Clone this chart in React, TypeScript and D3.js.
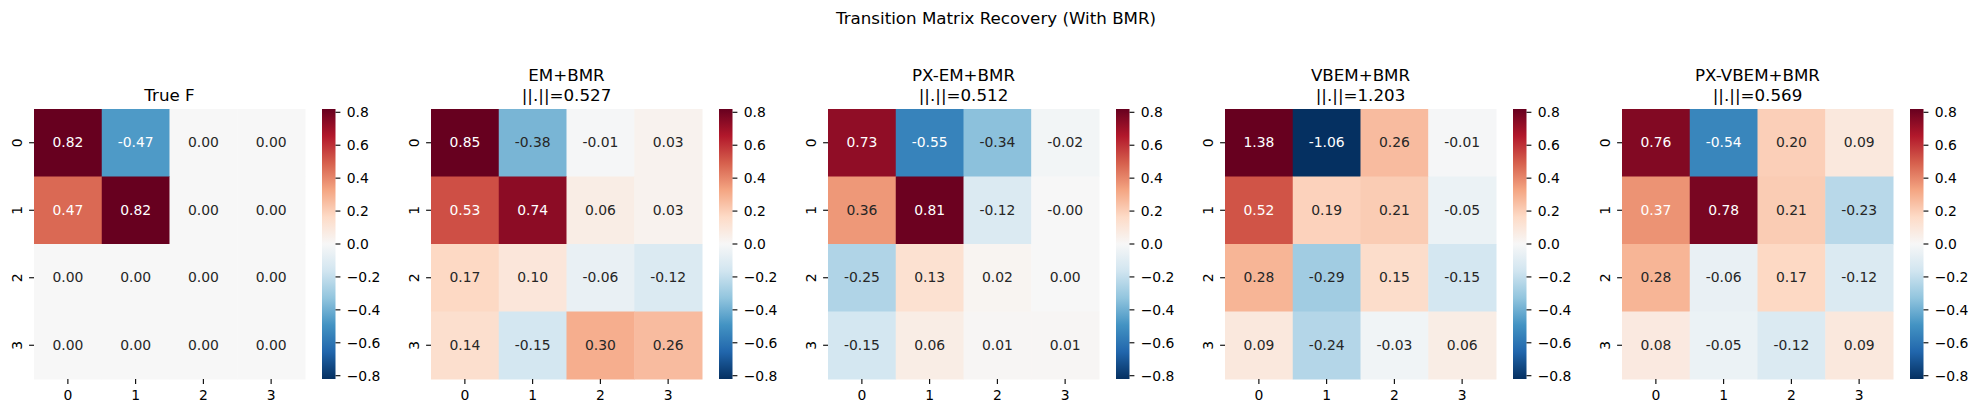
import React, { useRef, useEffect } from 'react'
import * as d3 from 'd3'

const rowLabels = ['0', '1', '2', '3']
const colLabels = ['0', '1', '2', '3']
const panelTitles = ['True F', 'EM+BMR', 'PX-EM+BMR', 'VBEM+BMR', 'PX-VBEM+BMR']
const errorNorms = [null, 0.527, 0.512, 1.203, 0.569]

const trueF = [
  [0.82, -0.47, 0.0, 0.0],
  [0.47, 0.82, 0.0, 0.0],
  [0.0, 0.0, 0.0, 0.0],
  [0.0, 0.0, 0.0, 0.0],
]
const emBmr = [
  [0.85, -0.38, -0.01, 0.03],
  [0.53, 0.74, 0.06, 0.03],
  [0.17, 0.10, -0.06, -0.12],
  [0.14, -0.15, 0.30, 0.26],
]
const pxEmBmr = [
  [0.73, -0.55, -0.34, -0.02],
  [0.36, 0.81, -0.12, -0.0],
  [-0.25, 0.13, 0.02, 0.0],
  [-0.15, 0.06, 0.01, 0.01],
]
const vbemBmr = [
  [1.38, -1.06, 0.26, -0.01],
  [0.52, 0.19, 0.21, -0.05],
  [0.28, -0.29, 0.15, -0.15],
  [0.09, -0.24, -0.03, 0.06],
]
const pxVbemBmr = [
  [0.76, -0.54, 0.20, 0.09],
  [0.37, 0.78, 0.21, -0.23],
  [0.28, -0.06, 0.17, -0.12],
  [0.08, -0.05, -0.12, 0.09],
]
const matrices = [trueF, emBmr, pxEmBmr, vbemBmr, pxVbemBmr]

const colorbarTicks = [-0.8, -0.6, -0.4, -0.2, 0.0, 0.2, 0.4, 0.6, 0.8]
const vmax = 0.82

// RdBu_r stops (ColorBrewer 11-class, low -> high)
const rdbuR = ['#053061', '#2166ac', '#4393c3', '#92c5de', '#d1e5f0', '#f7f7f7',
  '#fddbc7', '#f4a582', '#d6604d', '#b2182b', '#67001f']

const FONT = 'DejaVu Sans, Verdana, sans-serif'

// seaborn picks dark or white annotation text from relative luminance
function textColor(c: string) {
  const rgb = d3.rgb(c)
  const lin = [rgb.r, rgb.g, rgb.b].map(v => {
    const s = v / 255
    return s <= 0.03928 ? s / 12.92 : Math.pow((s + 0.055) / 1.055, 2.4)
  })
  const lum = 0.2126 * lin[0] + 0.7152 * lin[1] + 0.0722 * lin[2]
  return lum > 0.408 ? '#262626' : '#ffffff'
}

function fmtCell(v: number) {
  const neg = v < 0 || Object.is(v, -0)
  return (neg ? '-' : '') + Math.abs(v).toFixed(2)
}

function App() {
  const ref = useRef<SVGSVGElement | null>(null)

  useEffect(() => {
    const W = 1977
    const H = 413
    const firstLeft = 34
    const panelStep = 397
    const top = 109
    const hmW = 271
    const hmH = 270
    const cbOffset = 288
    const cbW = 13.5

    const svg = d3.select(ref.current)
    svg.selectAll('*').remove()
    svg.attr('width', W).attr('height', H)

    svg.append('rect').attr('width', W).attr('height', H).attr('fill', '#fff')

    const color = d3.scaleLinear<string>()
      .domain(d3.range(rdbuR.length).map(i => -vmax + (2 * vmax * i) / (rdbuR.length - 1)))
      .range(rdbuR)
      .interpolate(d3.interpolateRgb)
      .clamp(true)

    // shared gradient for the colorbars
    const grad = svg.append('defs').append('linearGradient')
      .attr('id', 'cbar-grad')
      .attr('x1', 0).attr('y1', 1).attr('x2', 0).attr('y2', 0)
    rdbuR.forEach((c, i) => {
      grad.append('stop')
        .attr('offset', i / (rdbuR.length - 1))
        .attr('stop-color', c)
    })

    svg.append('text')
      .attr('x', 996)
      .attr('y', 24)
      .attr('text-anchor', 'middle')
      .style('font-family', FONT)
      .style('font-size', '16.7px')
      .attr('fill', '#000')
      .text('Transition Matrix Recovery (With BMR)')

    const x = d3.scaleBand().domain(colLabels).range([0, hmW])
    const y = d3.scaleBand().domain(rowLabels).range([0, hmH])
    const cbScale = d3.scaleLinear().domain([-vmax, vmax]).range([hmH, 0])

    matrices.forEach((mat, p) => {
      const left = firstLeft + panelStep * p
      const g = svg.append('g').attr('transform', `translate(${left},${top})`)

      // cells
      mat.forEach((row, r) => {
        row.forEach((v, c) => {
          const fill = color(v)
          g.append('rect')
            .attr('x', x(colLabels[c]))
            .attr('y', y(rowLabels[r]))
            .attr('width', x.bandwidth() + 0.5)
            .attr('height', y.bandwidth() + 0.5)
            .attr('fill', fill)
          g.append('text')
            .attr('x', x(colLabels[c]) + x.bandwidth() / 2)
            .attr('y', y(rowLabels[r]) + y.bandwidth() / 2 + 4.4)
            .attr('text-anchor', 'middle')
            .style('font-family', FONT)
            .style('font-size', '13.9px')
            .attr('fill', textColor(fill))
            .text(fmtCell(v))
        })
      })

      // x ticks
      colLabels.forEach(lbl => {
        const cx = x(lbl) + x.bandwidth() / 2
        g.append('line')
          .attr('x1', cx).attr('x2', cx)
          .attr('y1', hmH).attr('y2', hmH + 4.9)
          .attr('stroke', '#000').attr('stroke-width', 1.1)
        g.append('text')
          .attr('x', cx).attr('y', hmH + 21.3)
          .attr('text-anchor', 'middle')
          .style('font-family', FONT)
          .style('font-size', '13.9px')
          .attr('fill', '#000')
          .text(lbl)
      })

      // y ticks (rotated labels)
      rowLabels.forEach(lbl => {
        const cy = y(lbl) + y.bandwidth() / 2
        g.append('line')
          .attr('x1', -4.9).attr('x2', 0)
          .attr('y1', cy).attr('y2', cy)
          .attr('stroke', '#000').attr('stroke-width', 1.1)
        g.append('text')
          .attr('transform', `translate(-12.3,${cy}) rotate(-90)`)
          .attr('text-anchor', 'middle')
          .style('font-family', FONT)
          .style('font-size', '13.9px')
          .attr('fill', '#000')
          .text(lbl)
      })

      // title
      const cx = hmW / 2
      const norm = errorNorms[p]
      if (norm === null) {
        g.append('text')
          .attr('x', cx).attr('y', -8.3)
          .attr('text-anchor', 'middle')
          .style('font-family', FONT)
          .style('font-size', '16.7px')
          .attr('fill', '#000')
          .text(panelTitles[p])
      } else {
        g.append('text')
          .attr('x', cx).attr('y', -28.3)
          .attr('text-anchor', 'middle')
          .style('font-family', FONT)
          .style('font-size', '16.7px')
          .attr('fill', '#000')
          .text(panelTitles[p])
        g.append('text')
          .attr('x', cx).attr('y', -8.3)
          .attr('text-anchor', 'middle')
          .style('font-family', FONT)
          .style('font-size', '16.7px')
          .attr('fill', '#000')
          .text(`||.||=${norm.toFixed(3)}`)
      }

      // colorbar
      const cb = g.append('g').attr('transform', `translate(${cbOffset},0)`)
      cb.append('rect')
        .attr('width', cbW).attr('height', hmH)
        .attr('fill', 'url(#cbar-grad)')
      colorbarTicks.forEach(t => {
        const ty = cbScale(t)
        cb.append('line')
          .attr('x1', cbW).attr('x2', cbW + 4.9)
          .attr('y1', ty).attr('y2', ty)
          .attr('stroke', '#000').attr('stroke-width', 1.1)
        cb.append('text')
          .attr('x', cbW + 11.2).attr('y', ty + 5.0)
          .style('font-family', FONT)
          .style('font-size', '13.9px')
          .attr('fill', '#000')
          .text(d3.format('.1f')(t))
      })
    })
  }, [])

  return (
    <svg ref={ref} style={{ position: 'absolute', left: 0, top: 0, display: 'block' }} />
  )
}

export default App
